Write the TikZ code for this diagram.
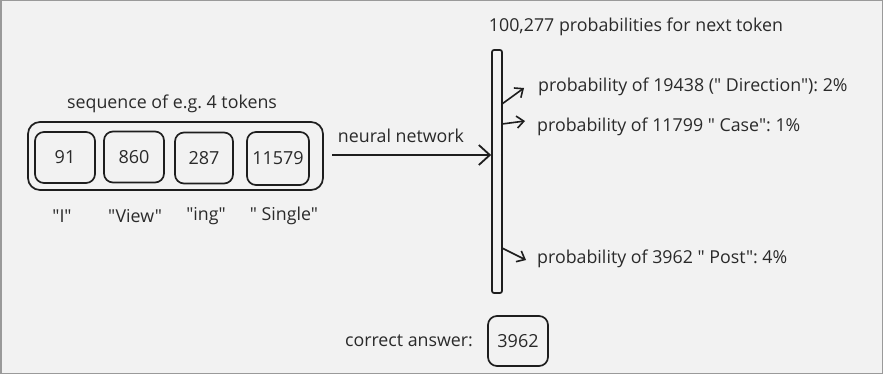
\documentclass[tikz,border=0pt]{standalone}
\usepackage{fontspec}
\setmainfont{Open Sans}[Ligatures=TeXOff]
\usetikzlibrary{arrows.meta}
\frenchspacing
\definecolor{bgc}{HTML}{F2F2F2}
\definecolor{ink}{HTML}{1E1E1E}
\definecolor{txt}{HTML}{2A2A2A}
\definecolor{frame}{HTML}{9A9A9A}
\newcommand{\qq}{\char34 }
\begin{document}
\begin{tikzpicture}[x=1pt,y=-1pt,
  lbl/.style={text=txt,font=\fontsize{17.8}{20}\selectfont,inner sep=0pt},
  tok/.style={draw=ink,line width=1.7pt,rounded corners=9pt,minimum width=60pt,minimum height=51pt,text=txt,font=\fontsize{18}{20}\selectfont,inner sep=0pt},
  arr/.style={draw=ink,line width=1.6pt,-{Straight Barb[length=7pt,width=12pt,line width=1.6pt]}},
  bigarr/.style={draw=ink,line width=1.8pt,-{Straight Barb[length=11pt,width=20pt,line width=1.8pt]}}]
\fill[bgc] (0,0) rectangle (883,374);
\draw[frame,line width=1.5pt] (0.75,0.75) rectangle (882.25,373.25);
\useasboundingbox (0,0) rectangle (883,374);
% outer sequence box
\node[draw=ink,line width=1.7pt,rounded corners=12pt,minimum width=295pt,minimum height=68pt,inner sep=0pt] (seq) at (175.5,156) {};
\node[tok] (t1) at (65,157.5) {91};
\node[tok] (t2) at (134,157) {860};
\node[tok,minimum width=58pt] (t3) at (204,158) {287};
\node[tok,minimum width=62pt,minimum height=53pt] (t4) at (278,158.5) {11579};
\node[lbl] (seqlbl) at (172,104) {sequence of e.g. 4 tokens};
\node[lbl] (w1) at (62,216) {\qq I\qq};
\node[lbl] (w2) at (135,216) {\qq View\qq};
\node[lbl] (w3) at (206,216) {\qq ing\qq};
\node[lbl] (w4) at (284,216) {\qq\ Single\qq};
% probability bar
\node[draw=ink,line width=1.7pt,rounded corners=2pt,minimum width=10pt,minimum height=243pt,inner sep=0pt] (bar) at (497,171.5) {};
\node[lbl] (title) at (636,27) {100,277 probabilities for next token};
\coordinate (nnstart) at (332,155);
\draw[bigarr] (nnstart) -- (bar.west |- nnstart);
\node[lbl] (nn) at (401,136) {neural network};
% outputs
\node[lbl,anchor=west] (p1) at (538,87) {probability of 19438 (\qq\ Direction\qq): 2\%};
\node[lbl,anchor=west] (p2) at (537,127) {probability of 11799 \qq\ Case\qq: 1\%};
\node[lbl,anchor=west] (p3) at (537,259) {probability of 3962 \qq\ Post\qq: 4\%};
\coordinate (s1) at (502,104);
\coordinate (e1) at (524,88);
\coordinate (s2) at (502,124);
\coordinate (e2) at (525,121);
\coordinate (s3) at (502,248);
\coordinate (e3) at (526,260);
\draw[arr] (s1) -- (e1);
\draw[arr] (s2) -- (e2);
\draw[arr] (s3) -- (e3);
% correct answer
\node[lbl] (ca) at (409,341) {correct answer:};
\node[tok,minimum width=60pt,minimum height=50pt] (ans) at (518,341) {3962};
\end{tikzpicture}
\end{document}
